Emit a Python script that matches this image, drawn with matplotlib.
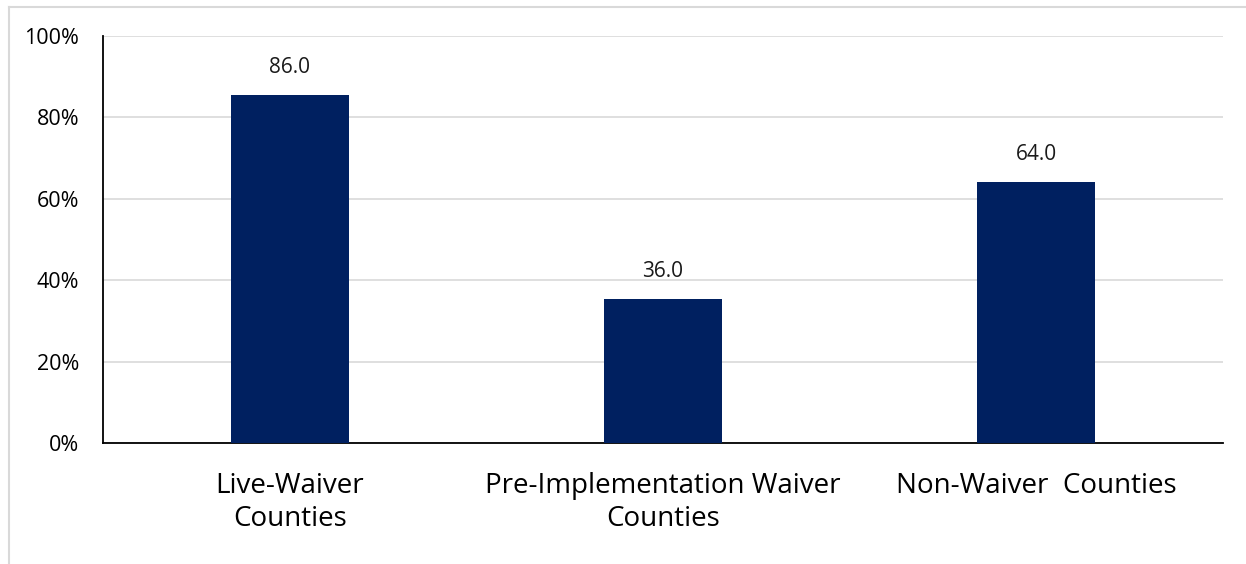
import matplotlib.pyplot as plt
from matplotlib.lines import Line2D
from matplotlib.ticker import PercentFormatter

categories = ["Live-Waiver\nCounties", "Pre-Implementation Waiver\nCounties", "Non-Waiver  Counties"]
values = [85.6, 35.5, 64.2]
value_labels = ["86.0", "36.0", "64.0"]

plt.rcParams['font.family'] = ['Open Sans', 'DejaVu Sans']

fig = plt.figure(figsize=(12.46, 5.64), dpi=100)
ax = fig.add_axes([103/1246, 1 - 443/564, 1120/1246, 407/564])

x = range(len(categories))
bars = ax.bar(x, values, width=0.316, color='#002060', zorder=3)
for b, lab in zip(bars, value_labels):
    ax.annotate(lab, (b.get_x() + b.get_width()/2, b.get_height()),
                xytext=(0, 12), textcoords='offset points',
                ha='center', va='bottom', fontsize=15, color='#1a1a1a')

ax.set_xlim(-0.5, 2.5)
ax.set_ylim(0, 100)
ax.set_yticks([0, 20, 40, 60, 80, 100])
ax.yaxis.set_major_formatter(PercentFormatter(decimals=0))
ax.set_xticks(list(x))
ax.set_xticklabels(categories, fontsize=20, linespacing=1.25)
ax.tick_params(axis='x', length=0, pad=21)
ax.tick_params(axis='y', length=0, pad=17, labelsize=15.5)
ax.grid(axis='y', color='#d9d9d9', linewidth=1.2, zorder=0)
for s in ['top', 'right']:
    ax.spines[s].set_visible(False)
ax.spines['left'].set_color('black')
ax.spines['bottom'].set_color('black')
ax.spines['left'].set_linewidth(1.3)
ax.spines['bottom'].set_linewidth(1.3)

# outer chart frame (only left and top edges fall inside the image)
fig.add_artist(Line2D([9/1246, 9/1246], [0, 1 - 7/564], color='#d9d9d9', lw=1.5))
fig.add_artist(Line2D([9/1246, 1], [1 - 7/564, 1 - 7/564], color='#d9d9d9', lw=1.5))

fig.savefig('out.png', dpi=100)
